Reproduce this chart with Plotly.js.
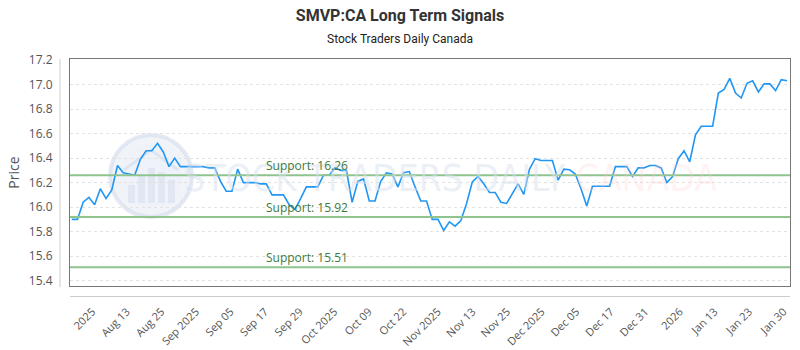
<!DOCTYPE html>
<html>
<head>
<meta charset="utf-8">
<script src="https://cdn.plot.ly/plotly-3.0.1.min.js"></script>
<style>html,body{margin:0;padding:0;background:#fff;}#chart{width:800px;height:350px;}</style>
</head>
<body>
<div id="chart"></div>
<script>
// ---- data ----
const prices = [
  15.90, 15.90, 16.04, 16.08, 16.02, 16.15, 16.07, 16.14, 16.34, 16.28,
  16.27, 16.26, 16.39, 16.46, 16.46, 16.52, 16.45, 16.33, 16.40, 16.33,
  16.33, 16.33, 16.33, 16.33, 16.32, 16.32, 16.21, 16.13, 16.13, 16.31,
  16.20, 16.20, 16.20, 16.19, 16.19, 16.10, 16.10, 16.10, 16.02, 15.98,
  16.07, 16.165, 16.165, 16.165, 16.26, 16.26, 16.32, 16.30, 16.30, 16.04,
  16.21, 16.23, 16.05, 16.05, 16.21, 16.28, 16.27, 16.165, 16.28, 16.29,
  16.165, 16.05, 16.05, 15.90, 15.90, 15.81, 15.88, 15.845, 15.89, 16.03,
  16.205, 16.25, 16.19, 16.12, 16.12, 16.04, 16.03, 16.105, 16.19, 16.105,
  16.31, 16.395, 16.38, 16.38, 16.38, 16.22, 16.31, 16.305, 16.27, 16.15,
  16.01, 16.17, 16.17, 16.17, 16.17, 16.33, 16.33, 16.33, 16.25, 16.32,
  16.32, 16.34, 16.34, 16.32, 16.20, 16.25, 16.395, 16.46, 16.37, 16.59,
  16.66, 16.66, 16.66, 16.93, 16.96, 17.05, 16.93, 16.89, 17.01, 17.03,
  16.94, 17.005, 17.005, 16.95, 17.04, 17.03
];
const tickLabels = ["2025", "Aug 13", "Aug 25", "Sep 2025", "Sep 05", "Sep 17", "Sep 29",
  "Oct 2025", "Oct 09", "Oct 22", "Nov 2025", "Nov 13", "Nov 25", "Dec 2025", "Dec 05",
  "Dec 17", "Dec 31", "2026", "Jan 13", "Jan 23", "Jan 30"];
const supportLevels = [16.26, 15.92, 15.51];
const titleText = "SMVP:CA Long Term Signals";
const subtitleText = "Stock Traders Daily Canada";
const yTitle = "Price";

// ---- chart ----
const xIdx = prices.map((_, i) => i);
const tickVals = tickLabels.map((_, k) => 3.6 + 6.04 * k);

const FONT = "'Open Sans', 'Noto Sans', sans-serif";
const TFONT = "Roboto, 'Open Sans', sans-serif";

const shapes = [];
supportLevels.forEach(v => shapes.push({
  type: 'line', xref: 'paper', x0: 0, x1: 1, yref: 'y', y0: v, y1: v,
  line: {color: '#8fc48f', width: 2}, layer: 'above'
}));
// offset axis lines
shapes.push({type: 'line', xref: 'paper', yref: 'paper', x0: -10/720, x1: -10/720, y0: -1/227, y1: 1,
  line: {color: '#cccccc', width: 1}});
shapes.push({type: 'line', xref: 'paper', yref: 'paper', x0: 0, x1: 1, y0: -10.5/227, y1: -10.5/227,
  line: {color: '#cccccc', width: 1}});
// watermark logo
const px = x => (x - 70) / 720, py = y => (286 - y) / 227;
shapes.push({type: 'circle', xref: 'paper', yref: 'paper', x0: px(110), x1: px(192), y0: py(217), y1: py(135),
  fillcolor: 'rgba(226,232,242,0.5)', line: {color: 'rgba(214,222,236,0.65)', width: 4}, layer: 'below'});
shapes.push({type: 'circle', xref: 'paper', yref: 'paper', x0: px(120), x1: px(182), y0: py(207), y1: py(145),
  fillcolor: 'rgba(238,242,248,0.6)', line: {color: 'rgba(0,0,0,0)', width: 0}, layer: 'below'});
[[128, 185], [138, 175], [148, 168], [158, 172], [168, 180]].forEach(([bx, top]) => shapes.push({
  type: 'rect', xref: 'paper', yref: 'paper', x0: px(bx), x1: px(bx + 7), y0: py(203), y1: py(top),
  fillcolor: 'rgba(215,224,238,0.6)', line: {width: 0}, layer: 'below'}));
shapes.push({type: 'path', xref: 'paper', yref: 'paper', layer: 'below',
  path: `M ${px(124)} ${py(170)} L ${px(151)} ${py(150)} L ${px(178)} ${py(170)}`,
  line: {color: 'rgba(215,224,238,0.7)', width: 3}});

const annotations = [];
// watermark text first so it sits beneath the support labels
annotations.push({
  xref: 'paper', yref: 'paper', x: px(450), y: py(178), xanchor: 'center', yanchor: 'middle',
  text: "STOCK TRADERS DAILY <span style='color:rgba(255,205,205,0.5)'>CANADA</span>",
  showarrow: false,
  font: {family: "'Liberation Sans Narrow', 'DejaVu Sans Condensed', Roboto, sans-serif", size: 37, color: 'rgba(215,224,238,0.5)'}
});
supportLevels.forEach(v => annotations.push({
  xref: 'x', x: 41.1, yref: 'y', y: v, yanchor: 'bottom', xanchor: 'center',
  text: 'Support: ' + v.toFixed(2), showarrow: false, yshift: -1,
  font: {family: FONT, size: 12, color: '#3d7a3d'}
}));
annotations.push({
  xref: 'paper', yref: 'paper', x: px(400), y: 1, yanchor: 'bottom', yshift: 11,
  text: subtitleText, showarrow: false, font: {family: TFONT, size: 12, color: '#222'}
});

const trace = {
  x: xIdx, y: prices, type: 'scatter', mode: 'lines',
  line: {color: '#2196f3', width: 1.6}, hoverinfo: 'skip'
};

const layout = {
  width: 800, height: 350,
  margin: {l: 70, r: 10, t: 59, b: 64},
  paper_bgcolor: '#fff', plot_bgcolor: '#fff',
  showlegend: false,
  title: {text: '<b>' + titleText + '</b>', x: 0.5, xanchor: 'center', y: 0.955, yanchor: 'middle',
    font: {family: TFONT, size: 16, color: '#333'}},
  xaxis: {
    range: [-0.3, 125.52], tickmode: 'array', tickvals: tickVals, ticktext: tickLabels,
    tickangle: -45, showgrid: false, zeroline: false, showline: true, mirror: true,
    linecolor: '#777', linewidth: 1, ticks: '', ticklabelstandoff: 14,
    tickfont: {family: FONT, size: 11, color: '#555'}, fixedrange: true
  },
  yaxis: {
    range: [15.357, 17.208], tick0: 15.4, dtick: 0.2, tickformat: '.1f',
    showgrid: true, gridcolor: '#e2e2e2', griddash: 'dot', gridwidth: 1,
    zeroline: false, showline: true, mirror: true, linecolor: '#777', linewidth: 1,
    ticks: '', ticklabelstandoff: 14,
    tickfont: {family: FONT, size: 12, color: '#555'},
    title: {text: yTitle, standoff: 5, font: {family: FONT, size: 14, color: '#555'}},
    fixedrange: true
  },
  shapes: shapes,
  annotations: annotations
};

Plotly.newPlot('chart', [trace], layout, {displayModeBar: false, staticPlot: true});
</script>
</body>
</html>
